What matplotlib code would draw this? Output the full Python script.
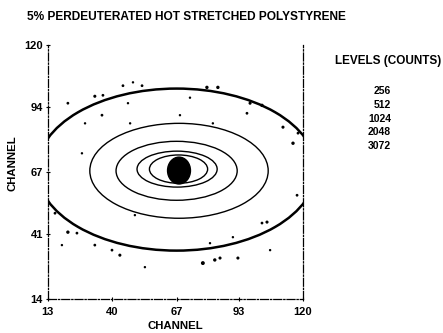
import matplotlib
matplotlib.use('Agg')
import matplotlib.pyplot as plt
from matplotlib.patches import Ellipse

# contour levels (channel units), outermost first
ring_cx = [67.0, 68.0, 67.0, 67.2, 67.8]
ring_cy = [68.0, 67.5, 67.5, 68.2, 68.2]
ring_half_w = [58.5, 37.4, 25.4, 16.8, 12.2]
ring_half_h = [33.8, 19.8, 12.3, 7.5, 5.9]
ring_lw = [1.8, 1.0, 1.0, 1.0, 1.0]

# saturated core (filled)
core_cx, core_cy = 68.0, 67.6
core_half_w, core_half_h = 4.8, 5.6

# isolated counts scattered around the outer contour
dot_x = [32.7, 36.1, 44.5, 48.7, 52.5, 21.4, 28.6, 35.7, 46.6, 47.5,
         79.7, 84.3, 97.8, 102.8, 96.5, 111.6, 115.8, 117.9, 68.4, 82.2, 72.6,
         16.0, 21.4, 25.2, 32.7, 39.9, 43.2, 53.7, 18.9,
         78.0, 83.0, 85.2, 92.7, 104.9, 102.8, 106.2, 117.5, 90.6, 81.0, 27.3, 49.5]
dot_y = [98.6, 99.0, 103.0, 104.4, 103.0, 95.7, 87.3, 90.7, 95.7, 87.3,
         102.3, 102.3, 95.7, 94.8, 91.5, 85.7, 79.0, 83.2, 90.7, 87.3, 98.0,
         49.8, 41.9, 41.5, 36.5, 34.4, 32.3, 27.3, 36.5,
         29.0, 30.3, 31.1, 31.1, 46.1, 45.7, 34.4, 57.3, 39.8, 37.3, 74.8, 49.0]
dot_size = [5, 4, 4, 3, 4, 4, 3, 4, 3, 3,
            6, 6, 5, 6, 4, 5, 6, 4, 3, 3, 3,
            4, 6, 4, 4, 4, 5, 3, 3,
            8, 6, 5, 5, 5, 4, 3, 4, 3, 3, 3, 3]

x_ticks = [13, 40, 67, 93, 120]
y_ticks = [14, 41, 67, 94, 120]
level_labels = ['256', '512', '1024', '2048', '3072']

font = 'Liberation Sans'

fig = plt.figure(figsize=(4.43, 3.33), dpi=100)
ax = fig.add_axes([0.108, 0.102, 0.576, 0.763])

for cx, cy, w, h, lw in zip(ring_cx, ring_cy, ring_half_w, ring_half_h, ring_lw):
    ax.add_patch(Ellipse((cx, cy), 2 * w, 2 * h, fill=False, edgecolor='black', linewidth=lw))
ax.add_patch(Ellipse((core_cx, core_cy), 2 * core_half_w, 2 * core_half_h,
                     facecolor='black', edgecolor='black'))
ax.scatter(dot_x, dot_y, s=dot_size, color='black', linewidths=0)

ax.set_xlim(13, 120)
ax.set_ylim(14, 120)
ax.set_xticks(x_ticks)
ax.set_yticks(y_ticks)
ax.set_xticklabels([str(t) for t in x_ticks], fontfamily=font, fontweight='bold', fontsize=8)
ax.set_yticklabels([str(t) for t in y_ticks], fontfamily=font, fontweight='bold', fontsize=8)
ax.tick_params(axis='x', length=3, width=0.8, pad=4, direction='inout')
ax.tick_params(axis='y', length=3, width=0.8, pad=2, direction='inout')

ax.spines['top'].set_visible(False)
for side in ['left', 'right', 'bottom']:
    ax.spines[side].set_linestyle('-.')
    ax.spines[side].set_linewidth(0.9)

ax.set_xlabel('CHANNEL', fontfamily=font, fontweight='bold', fontsize=8.2)
ax.set_ylabel('CHANNEL', fontfamily=font, fontweight='bold', fontsize=8.2)
ax.xaxis.set_label_coords(0.5, -0.087)
ax.yaxis.set_label_coords(-0.117, 0.533)

fig.text(27 / 443, 1 - 17 / 333, '5% PERDEUTERATED HOT STRETCHED POLYSTYRENE',
         fontfamily=font, fontweight='bold', fontsize=8.6, ha='left', va='center')
fig.text(335 / 443, 1 - 61 / 333, 'LEVELS (COUNTS)',
         fontfamily=font, fontweight='bold', fontsize=8.5, ha='left', va='center')
for i, lab in enumerate(level_labels):
    fig.text(391 / 443, 1 - (91 + i * 13.8) / 333, lab,
             fontfamily=font, fontweight='bold', fontsize=7.5, ha='right', va='center')

fig.savefig('out.png', dpi=100)
